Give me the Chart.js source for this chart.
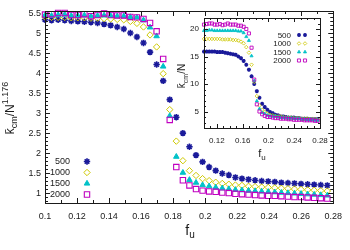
<!DOCTYPE html>
<html>
<head>
<meta charset="utf-8">
<script src="https://cdn.jsdelivr.net/npm/chart.js@4.4.1/dist/chart.umd.min.js"></script>
<style>
  body { margin: 0; background: #fff; }
  #wrap { position: relative; width: 350px; height: 250px; }
  #main { position: absolute; left: 0; top: 0; }
  #inset { position: absolute; left: 160px; top: 0; }
</style>
</head>
<body>
<div id="wrap">
  <canvas id="main" width="350" height="250"></canvas>
  <canvas id="inset" width="180" height="170"></canvas>
</div>
<script>
// f_u values (same grid for every N)
const fu = [0.1000, 0.1041, 0.1082, 0.1123, 0.1164, 0.1205, 0.1246, 0.1287, 0.1328, 0.1369,
            0.1410, 0.1451, 0.1492, 0.1533, 0.1574, 0.1615, 0.1656, 0.1697, 0.1738, 0.1779,
            0.1820, 0.1861, 0.1902, 0.1943, 0.1984, 0.2025, 0.2066, 0.2107, 0.2148, 0.2189,
            0.2230, 0.2271, 0.2312, 0.2353, 0.2394, 0.2435, 0.2476, 0.2517, 0.2558, 0.2599,
            0.2640, 0.2681, 0.2722, 0.2763];

// main plot: k_cm / N^1.176
const main500  = [5.34, 5.33, 5.34, 5.33, 5.31, 5.30, 5.29, 5.28, 5.26, 5.23,
                  5.20, 5.16, 5.11, 5.01, 4.91, 4.76, 4.53, 4.22, 3.81, 3.34,
                  2.90, 2.50, 2.16, 1.95, 1.78, 1.65, 1.56, 1.49, 1.45, 1.39,
                  1.36, 1.34, 1.32, 1.30, 1.29, 1.28, 1.26, 1.25, 1.24, 1.23,
                  1.22, 1.21, 1.20, 1.19];
const main1000 = [5.41, 5.40, 5.40, 5.40, 5.39, 5.39, 5.39, 5.38, 5.38, 5.37,
                  5.36, 5.35, 5.34, 5.30, 5.25, 5.16, 4.96, 4.66, 3.99, 3.09,
                  2.30, 1.81, 1.56, 1.44, 1.36, 1.31, 1.27, 1.24, 1.22, 1.20,
                  1.19, 1.17, 1.16, 1.15, 1.14, 1.13, 1.12, 1.11, 1.10, 1.09,
                  1.08, 1.07, 1.06, 1.05];
const main1500 = [5.45, 5.44, 5.46, 5.47, 5.44, 5.44, 5.45, 5.43, 5.44, 5.45,
                  5.44, 5.43, 5.43, 5.41, 5.40, 5.33, 5.15, 4.93, 4.17, 2.93,
                  1.91, 1.51, 1.33, 1.26, 1.20, 1.17, 1.14, 1.12, 1.10, 1.08,
                  1.07, 1.06, 1.05, 1.04, 1.03, 1.02, 1.01, 1.00, 0.99, 0.98,
                  0.97, 0.96, 0.95, 0.94];
const main2000 = [5.47, 5.48, 5.51, 5.51, 5.46, 5.46, 5.48, 5.43, 5.46, 5.50,
                  5.46, 5.45, 5.45, 5.41, 5.40, 5.36, 5.26, 5.05, 4.36, 2.83,
                  1.65, 1.32, 1.19, 1.10, 1.06, 1.04, 1.03, 1.01, 1.00, 0.98,
                  0.97, 0.96, 0.95, 0.94, 0.93, 0.93, 0.92, 0.91, 0.90, 0.90,
                  0.89, 0.88, 0.87, 0.86];

// inset: k_cm / N
const in500  = [15.9, 15.9, 15.9, 15.9, 15.9, 15.8, 15.8, 15.8, 15.7, 15.6,
                15.5, 15.4, 15.3, 15.0, 14.7, 14.2, 13.5, 12.6, 11.4, 10.0,
                8.7, 7.5, 6.4, 5.8, 5.3, 4.9, 4.7, 4.4, 4.3, 4.1,
                4.1, 4.0, 3.9, 3.9, 3.9, 3.8, 3.8, 3.7, 3.7, 3.7,
                3.6, 3.6, 3.6, 3.6];
const in1000 = [18.2, 18.2, 18.2, 18.2, 18.2, 18.2, 18.2, 18.1, 18.1, 18.1,
                18.1, 18.0, 18.0, 17.9, 17.7, 17.4, 16.7, 15.7, 13.5, 10.4,
                7.8, 6.1, 5.3, 4.9, 4.6, 4.4, 4.3, 4.2, 4.1, 4.1,
                4.0, 3.9, 3.9, 3.9, 3.8, 3.8, 3.8, 3.7, 3.7, 3.7,
                3.6, 3.6, 3.6, 3.5];
const in1500 = [19.7, 19.7, 19.8, 19.8, 19.7, 19.7, 19.7, 19.7, 19.7, 19.7,
                19.7, 19.7, 19.7, 19.6, 19.6, 19.3, 18.6, 17.9, 15.1, 10.6,
                6.9, 5.5, 4.8, 4.6, 4.3, 4.2, 4.1, 4.1, 4.0, 3.9,
                3.9, 3.8, 3.8, 3.8, 3.7, 3.7, 3.7, 3.6, 3.6, 3.5,
                3.5, 3.5, 3.4, 3.4];
const in2000 = [20.8, 20.9, 21.0, 21.0, 20.8, 20.8, 20.9, 20.7, 20.8, 21.0,
                20.8, 20.8, 20.8, 20.6, 20.6, 20.4, 20.0, 19.2, 16.6, 10.8,
                6.3, 5.0, 4.5, 4.2, 4.0, 4.0, 3.9, 3.8, 3.8, 3.7,
                3.7, 3.7, 3.6, 3.6, 3.5, 3.5, 3.5, 3.5, 3.4, 3.4,
                3.4, 3.4, 3.3, 3.3];

const sizes = ["500", "1000", "1500", "2000"];
const xTicks = [0.1, 0.12, 0.14, 0.16, 0.18, 0.2, 0.22, 0.24, 0.26, 0.28];
const xTicksInset = [0.12, 0.16, 0.2, 0.24, 0.28];
const yTicksMain = [1, 1.5, 2, 2.5, 3, 3.5, 4, 4.5, 5, 5.5];
const yTicksInset = [5, 10, 15, 20];

const FONT = '"Liberation Sans", Arial, sans-serif';
const INK = '#1a1a1a';

const styles = [
  { color: '#1a1a9a', fill: '#1a1a9a', shape: 'star', r: 3.2, bw: 1.6, rIn: 2, bwIn: 1.2 },
  { color: '#cdc800', fill: 'rgba(0,0,0,0)', shape: 'rectRot', r: 3.2, bw: 1, rIn: 1.8, bwIn: 0.8 },
  { color: '#00c2c8', fill: '#00c2c8', shape: 'triangle', r: 3.2, bw: 1, rIn: 1.8, bwIn: 0.8 },
  { color: '#c000c0', fill: 'rgba(0,0,0,0)', shape: 'rect', r: 3.8, bw: 1.1, rIn: 2.2, bwIn: 0.9 }
];

function makeSets(series, inset) {
  return series.map((arr, i) => {
    const s = styles[i];
    return {
      label: sizes[i],
      data: fu.map((x, j) => ({ x: x, y: arr[j] })),
      showLine: false,
      clip: false,
      order: 4 - i,
      pointStyle: s.shape,
      pointRadius: inset ? s.rIn : s.r,
      pointBorderWidth: inset ? s.bwIn : s.bw,
      borderColor: s.color,
      backgroundColor: s.fill
    };
  });
}

function axis(min, max, ticks, fontSize, pad, fit) {
  return {
    type: 'linear', min: min, max: max,
    grid: { display: false, drawTicks: false },
    border: { display: false },
    afterBuildTicks: s => { s.ticks = ticks.map(v => ({ value: v })); },
    afterFit: fit,
    ticks: {
      autoSkip: false, maxRotation: 0, minRotation: 0, padding: pad,
      color: INK, font: { family: FONT, size: fontSize },
      callback: v => String(v)
    }
  };
}

// text with sub/superscripts; x,y is the baseline centre
function rich(ctx, parts, x, y, rot) {
  ctx.save();
  ctx.translate(x, y);
  if (rot) ctx.rotate(-Math.PI / 2);
  ctx.textAlign = 'left';
  ctx.textBaseline = 'alphabetic';
  ctx.fillStyle = INK;
  let w = 0;
  parts.forEach(p => { ctx.font = p.s + 'px ' + FONT; w += ctx.measureText(p.t).width; });
  let cx = -w / 2;
  parts.forEach(p => {
    ctx.font = p.s + 'px ' + FONT;
    ctx.fillText(p.t, cx, p.dy || 0);
    cx += ctx.measureText(p.t).width;
  });
  ctx.restore();
}

const deco = {
  id: 'deco',
  afterDraw(chart, args, o) {
    const ctx = chart.ctx, a = chart.chartArea;
    const xs = chart.scales.x, ys = chart.scales.y;
    ctx.save();
    ctx.strokeStyle = INK;
    ctx.lineWidth = 1;
    ctx.beginPath();
    const xt = (v, len) => {
      const p = Math.round(xs.getPixelForValue(v)) + 0.5;
      ctx.moveTo(p, a.bottom); ctx.lineTo(p, a.bottom - len);
      ctx.moveTo(p, a.top); ctx.lineTo(p, a.top + len);
    };
    const yt = (v, len) => {
      const p = Math.round(ys.getPixelForValue(v)) + 0.5;
      ctx.moveTo(a.left, p); ctx.lineTo(a.left + len, p);
      ctx.moveTo(a.right, p); ctx.lineTo(a.right - len, p);
    };
    for (let v = xs.min; v <= xs.max + 1e-9; v += o.xMinor) xt(v, o.minor);
    for (let v = Math.ceil(ys.min / o.yMinor) * o.yMinor; v <= ys.max + 1e-9; v += o.yMinor) yt(v, o.minor);
    xs.ticks.forEach(t => xt(t.value, o.major));
    ys.ticks.forEach(t => yt(t.value, o.major));
    ctx.stroke();
    ctx.strokeRect(Math.round(a.left) + 0.5, Math.round(a.top) + 0.5,
                   Math.round(a.right - a.left), Math.round(a.bottom - a.top));

    o.titles.forEach(t => rich(ctx, t.parts, t.x, t.y, t.rot));

    // key
    const L = o.key;
    ctx.font = L.size + 'px ' + FONT;
    ctx.textAlign = 'right';
    ctx.textBaseline = 'middle';
    chart.data.datasets.forEach((d, i) => {
      const y = L.ys[i];
      ctx.fillStyle = INK;
      ctx.fillText(d.label, L.x, y + 0.5);
      L.marks.forEach(mx => {
        ctx.strokeStyle = d.borderColor;
        ctx.fillStyle = d.backgroundColor;
        ctx.lineWidth = d.pointBorderWidth;
        Chart.helpers.drawPoint(ctx, {
          pointStyle: d.pointStyle, radius: d.pointRadius,
          borderWidth: d.pointBorderWidth, rotation: 0
        }, mx, y);
      });
    });
    ctx.restore();
  }
};

Chart.defaults.font.family = FONT;

new Chart(document.getElementById('main'), {
  type: 'scatter',
  data: { datasets: makeSets([main500, main1000, main1500, main2000], false) },
  options: {
    responsive: false, animation: false,
    layout: { padding: { top: 11, right: 14, left: 0, bottom: 0 } },
    plugins: {
      legend: { display: false }, tooltip: { enabled: false },
      deco: {
        xMinor: 0.01, yMinor: 0.1, major: 5, minor: 3,
        titles: [
          { parts: [{ t: 'k\u0304', s: 12 }, { t: 'cm', s: 9, dy: 3 }, { t: '/N', s: 12 }, { t: '1.176', s: 9, dy: -6 }],
            x: 14, y: 108, rot: true },
          { parts: [{ t: 'f', s: 14 }, { t: 'u', s: 10, dy: 3 }], x: 190, y: 235 }
        ],
        key: { x: 70, size: 9, marks: [87], ys: [161.5, 172.5, 183.5, 194.5] }
      }
    },
    scales: {
      x: axis(0.1, 0.28, xTicks, 9, 8, s => { s.height = 47; }),
      y: axis(0.75, 5.56, yTicksMain, 9, 4, s => { s.width = 45; })
    }
  },
  plugins: [deco]
});

new Chart(document.getElementById('inset'), {
  type: 'scatter',
  data: { datasets: makeSets([in500, in1000, in1500, in2000], true) },
  options: {
    responsive: false, animation: false,
    layout: { padding: { top: 18, right: 20, left: 0, bottom: 0 } },
    plugins: {
      legend: { display: false }, tooltip: { enabled: false },
      deco: {
        xMinor: 0.01, yMinor: 1, major: 4, minor: 2,
        titles: [
          { parts: [{ t: 'k\u0304', s: 10 }, { t: 'cm', s: 7, dy: 2.5 }, { t: '/N', s: 10 }],
            x: 25, y: 76, rot: true },
          { parts: [{ t: 'f', s: 11 }, { t: 'u', s: 8, dy: 2.5 }], x: 102, y: 157 }
        ],
        key: { x: 131, size: 8, marks: [139, 145], ys: [35, 43.5, 52, 60.5] }
      }
    },
    scales: {
      x: axis(0.1, 0.28, xTicksInset, 8, 8, s => { s.height = 42; }),
      y: axis(2, 22, yTicksInset, 8, 5, s => { s.width = 44; })
    }
  },
  plugins: [deco]
});
</script>
</body>
</html>
